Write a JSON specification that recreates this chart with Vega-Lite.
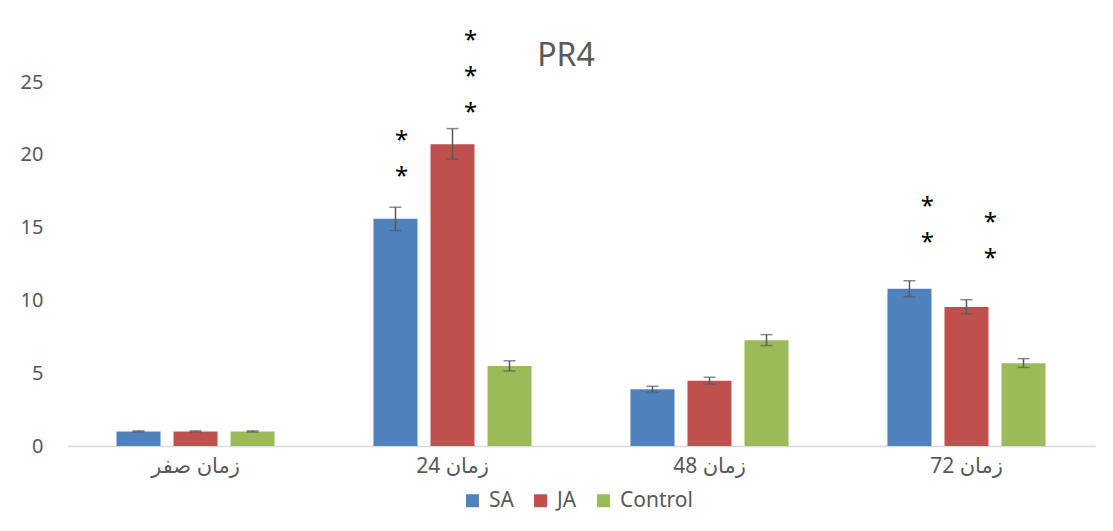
{
  "$schema": "https://vega.github.io/schema/vega-lite/v6.json",
  "width": 1028,
  "height": 364,
  "autosize": {"type": "none"},
  "padding": {"left": 67, "top": 82, "right": 18, "bottom": 85},
  "background": "white",
  "config": {"view": {"stroke": null}, "font": "Noto Sans, DejaVu Sans"},
  "title": {"text": "PR4", "fontSize": 32, "fontWeight": "normal", "color": "#595959", "anchor": "middle", "dx": -15, "offset": -44},
  "datasets": {
    "bars": [
      {"group": "زمان صفر", "series": "SA", "value": 1.0, "lo": 0.96, "hi": 1.04},
      {"group": "زمان صفر", "series": "JA", "value": 1.0, "lo": 0.96, "hi": 1.04},
      {"group": "زمان صفر", "series": "Control", "value": 1.0, "lo": 0.96, "hi": 1.04},
      {"group": "زمان 24", "series": "SA", "value": 15.6, "lo": 14.8, "hi": 16.4},
      {"group": "زمان 24", "series": "JA", "value": 20.72, "lo": 19.7, "hi": 21.8},
      {"group": "زمان 24", "series": "Control", "value": 5.5, "lo": 5.15, "hi": 5.85},
      {"group": "زمان 48", "series": "SA", "value": 3.9, "lo": 3.7, "hi": 4.1},
      {"group": "زمان 48", "series": "JA", "value": 4.48, "lo": 4.24, "hi": 4.72},
      {"group": "زمان 48", "series": "Control", "value": 7.27, "lo": 6.9, "hi": 7.65},
      {"group": "زمان 72", "series": "SA", "value": 10.8, "lo": 10.25, "hi": 11.35},
      {"group": "زمان 72", "series": "JA", "value": 9.55, "lo": 9.07, "hi": 10.05},
      {"group": "زمان 72", "series": "Control", "value": 5.69, "lo": 5.4, "hi": 6.0}
    ],
    "stars": [
      {"group": "زمان 24", "series": "SA", "pos": 21.17},
      {"group": "زمان 24", "series": "SA", "pos": 18.7},
      {"group": "زمان 24", "series": "JA", "pos": 28.04},
      {"group": "زمان 24", "series": "JA", "pos": 25.56},
      {"group": "زمان 24", "series": "JA", "pos": 23.09},
      {"group": "زمان 72", "series": "SA", "pos": 16.65},
      {"group": "زمان 72", "series": "SA", "pos": 14.18},
      {"group": "زمان 72", "series": "JA", "pos": 15.54},
      {"group": "زمان 72", "series": "JA", "pos": 13.04}
    ]
  },
  "encoding": {
    "x": {
      "field": "group", "type": "nominal",
      "sort": ["زمان صفر", "زمان 24", "زمان 48", "زمان 72"],
      "scale": {"paddingInner": 0.385, "paddingOuter": 0.1926},
      "axis": {"title": null, "domainColor": "#D9D9D9", "domainWidth": 1.5, "ticks": false, "labelFontSize": 21, "labelColor": "#595959", "labelPadding": 9, "labelAngle": 0}
    },
    "xOffset": {
      "field": "series", "type": "nominal",
      "sort": ["SA", "JA", "Control"],
      "scale": {"domain": ["SA", "JA", "Control"], "paddingInner": 0.228, "paddingOuter": 0}
    }
  },
  "layer": [
    {
      "data": {"name": "bars"},
      "mark": {"type": "bar"},
      "encoding": {
        "y": {"field": "value", "type": "quantitative", "scale": {"domain": [0, 25], "nice": false},
          "axis": {"title": null, "domain": false, "ticks": false, "grid": false, "values": [0, 5, 10, 15, 20, 25], "labelPadding": 24, "labelFontSize": 20, "labelColor": "#595959"}},
        "color": {"field": "series", "type": "nominal", "sort": ["SA", "JA", "Control"],
          "scale": {"domain": ["SA", "JA", "Control"], "range": ["#4F81BD", "#C0504D", "#9BBB59"]},
          "legend": {"title": null, "orient": "none", "legendX": 395, "legendY": 408, "direction": "horizontal", "symbolType": "square", "symbolSize": 169, "symbolStrokeWidth": 0, "labelFontSize": 21, "labelColor": "#595959", "columnPadding": 16, "labelOffset": 6}}
      }
    },
    {
      "data": {"name": "bars"},
      "mark": {"type": "rule", "color": "#595959", "strokeWidth": 1.5},
      "encoding": {"y": {"field": "lo", "type": "quantitative"}, "y2": {"field": "hi"}}
    },
    {
      "data": {"name": "bars"},
      "mark": {"type": "tick", "color": "#595959", "thickness": 1.5, "size": 12},
      "encoding": {"y": {"field": "lo", "type": "quantitative"}}
    },
    {
      "data": {"name": "bars"},
      "mark": {"type": "tick", "color": "#595959", "thickness": 1.5, "size": 12},
      "encoding": {"y": {"field": "hi", "type": "quantitative"}}
    },
    {
      "data": {"name": "stars"},
      "transform": [{"filter": "datum.group === 'زمان 24' && datum.series === 'SA'"}],
      "mark": {"type": "text", "text": "*", "fontSize": 24, "dx": 6, "dy": 10, "baseline": "alphabetic", "color": "#000000"},
      "encoding": {"y": {"field": "pos", "type": "quantitative"}}
    },
    {
      "data": {"name": "stars"},
      "transform": [{"filter": "(datum.group === 'زمان 24' && datum.series === 'JA') || (datum.group === 'زمان 72' && datum.series === 'SA')"}],
      "mark": {"type": "text", "text": "*", "fontSize": 24, "dx": 18, "dy": 10, "baseline": "alphabetic", "color": "#000000"},
      "encoding": {"y": {"field": "pos", "type": "quantitative"}}
    },
    {
      "data": {"name": "stars"},
      "transform": [{"filter": "datum.group === 'زمان 72' && datum.series === 'JA'"}],
      "mark": {"type": "text", "text": "*", "fontSize": 24, "dx": 24, "dy": 10, "baseline": "alphabetic", "color": "#000000"},
      "encoding": {"y": {"field": "pos", "type": "quantitative"}}
    }
  ]
}
